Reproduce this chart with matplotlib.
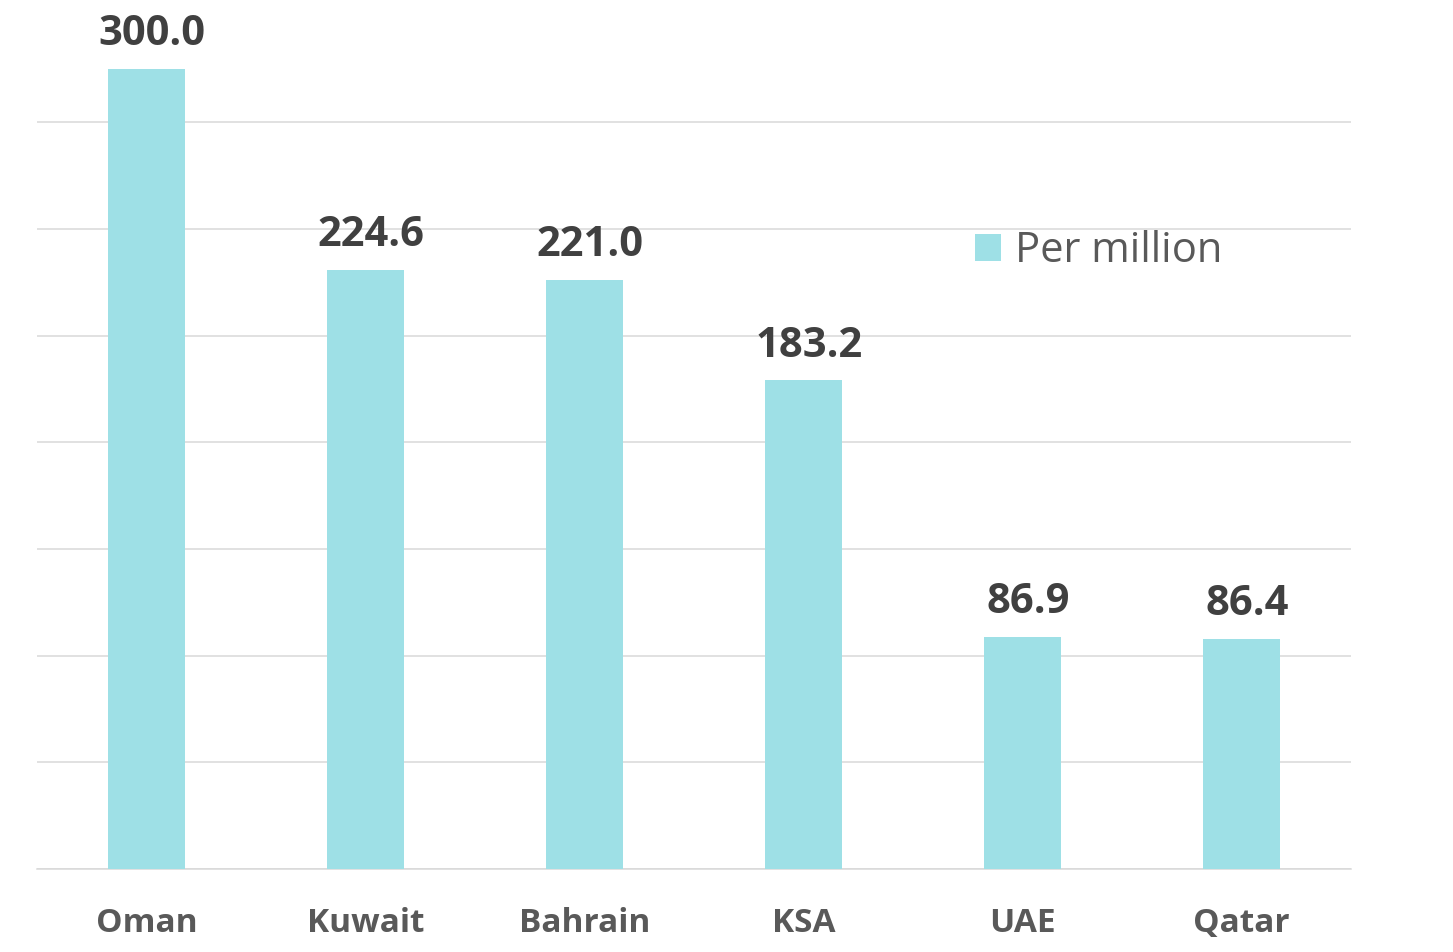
import matplotlib
matplotlib.use("Agg")
import matplotlib.pyplot as plt

countries = ["Oman", "Kuwait", "Bahrain", "KSA", "UAE", "Qatar"]
per_million = [300.0, 224.6, 221.0, 183.2, 86.9, 86.4]
grid_ticks = [0, 40, 80, 120, 160, 200, 240, 280]

BAR_COLOR = "#9EE0E6"
plt.rcParams["font.family"] = ["Open Sans", "DejaVu Sans"]

fig = plt.figure(figsize=(14.53, 9.52), dpi=100)
ax = fig.add_axes([37 / 1453, 0.0872, 1314 / 1453, 0.8963])

x = range(len(countries))
bars = ax.bar(x, per_million, width=0.35, color=BAR_COLOR, zorder=3, label="Per million")

# value labels sit slightly right of the bar centre, as in the original
for rect, val in zip(bars, per_million):
    ax.annotate(f"{val:.1f}", (rect.get_x() + rect.get_width() / 2, val),
                xytext=(4, 10), textcoords="offset points", ha="center", va="bottom",
                fontsize=30, fontweight="bold", color="#404040")

ax.set_xlim(-0.5, len(countries) - 0.5)
ax.set_ylim(0, 320)
ax.set_yticks(grid_ticks)
ax.yaxis.grid(True, color="#D9D9D9", linewidth=1.1, zorder=0)
ax.tick_params(axis="y", left=False, labelleft=False)
ax.set_xticks(list(x))
ax.set_xticklabels(countries, fontsize=24, fontweight="bold", color="#595959")
ax.tick_params(axis="x", bottom=False, pad=24)
for side in ("top", "right", "left"):
    ax.spines[side].set_visible(False)
ax.spines["bottom"].set_color("#D9D9D9")
ax.spines["bottom"].set_linewidth(1.1)

ax.legend(loc="center left", bbox_to_anchor=(975 / 1453, 1 - 251 / 952),
          bbox_transform=fig.transFigure, frameon=False, fontsize=30,
          labelcolor="#595959", handlelength=0.63, handleheight=0.63,
          handletextpad=0.33, borderpad=0, borderaxespad=0)

fig.savefig("out.png", dpi=100)
